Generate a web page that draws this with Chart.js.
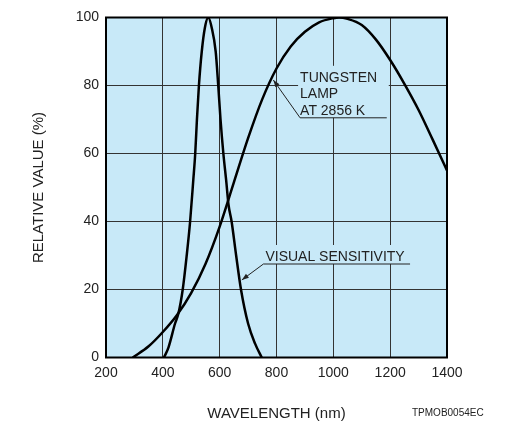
<!DOCTYPE html>
<html>
<head>
<meta charset="utf-8">
<script src="https://cdn.jsdelivr.net/npm/chart.js@4.4.0/dist/chart.umd.min.js"></script>
<style>
  html, body { margin: 0; padding: 0; background: #fff; }
  #wrap { width: 513px; height: 425px; }
</style>
</head>
<body>
<div id="wrap"><canvas id="chart" width="513" height="425"></canvas></div>
<script>
// tungsten lamp at 2856 K
const lampWavelengths = [294, 350, 400, 450, 500, 550, 600, 650, 700, 750, 800, 850, 900, 950, 1000, 1020, 1050, 1100, 1150, 1200, 1250, 1300, 1350, 1400];
const lampValues = [0, 3.3, 7.5, 12.5, 19, 27.5, 38.5, 51.5, 64.5, 76, 85, 91.5, 95.8, 98.6, 99.8, 100, 99.6, 97.8, 93.5, 87.5, 80.5, 72.8, 64, 55];

// visual sensitivity (eye)
const eyeWavelengths = [404, 420, 443, 455, 470, 484, 496, 507, 514, 520, 527, 537, 548, 560, 572, 586, 595, 603, 613, 623, 631, 642, 658, 675, 700, 725, 748];
const eyeValues = [0, 3, 10, 13, 20, 30, 40, 52, 60, 70, 80, 90, 97, 100, 97, 90, 80, 70, 60, 52, 45, 40, 30, 20, 10, 4, 0];

const xTicks = [200, 400, 600, 800, 1000, 1200, 1400];
const yTicks = [0, 20, 40, 60, 80, 100];

const plotBg = "rgb(200,233,248)";
const font = "Liberation Sans, Arial, Helvetica, sans-serif";

function toPoints(xs, ys) {
    return xs.map((x, i) => ({ x: x, y: ys[i] }));
}

function arrowHead(ctx, x1, y1, x2, y2) {
    const a = Math.atan2(y2 - y1, x2 - x1);
    const len = 7, w = 2.5;
    ctx.beginPath();
    ctx.moveTo(x2, y2);
    ctx.lineTo(x2 - len * Math.cos(a) + w * Math.sin(a), y2 - len * Math.sin(a) - w * Math.cos(a));
    ctx.lineTo(x2 - len * Math.cos(a) - w * Math.sin(a), y2 - len * Math.sin(a) + w * Math.cos(a));
    ctx.closePath();
    ctx.fill();
}

const decor = {
    id: "decor",
    beforeDraw(chart) {
        const a = chart.chartArea;
        const ctx = chart.ctx;
        ctx.save();
        ctx.fillStyle = plotBg;
        ctx.fillRect(a.left, a.top, a.right - a.left, a.bottom - a.top);
        ctx.restore();
    },
    afterDatasetsDraw(chart) {
        const ctx = chart.ctx;
        const xs = chart.scales.x, ys = chart.scales.y;
        const a = chart.chartArea;
        ctx.save();

        // frame
        ctx.strokeStyle = "#000";
        ctx.lineWidth = 2;
        ctx.strokeRect(a.left, a.top, a.right - a.left, a.bottom - a.top);

        ctx.font = "14px " + font;
        ctx.fillStyle = "#222";
        ctx.strokeStyle = "#222";
        ctx.lineWidth = 1;
        ctx.textBaseline = "alphabetic";

        // tungsten label
        let ux = xs.getPixelForValue(883), uy = ys.getPixelForValue(70.5);
        let ux2 = xs.getPixelForValue(1188);
        ctx.fillStyle = plotBg;
        ctx.fillRect(ux - 2, uy - 52, ux2 - ux + 4, 52);
        ctx.fillStyle = "#222";
        ctx.fillText("TUNGSTEN", ux, uy - 36);
        ctx.fillText("LAMP", ux, uy - 20);
        ctx.fillText("AT 2856 K", ux, uy - 3);
        ctx.beginPath();
        ctx.moveTo(ux2, uy);
        ctx.lineTo(ux, uy);
        let tx = xs.getPixelForValue(789), ty = ys.getPixelForValue(81.6);
        ctx.lineTo(tx, ty);
        ctx.stroke();
        arrowHead(ctx, ux, uy, tx, ty);

        // visual sensitivity label
        ux = xs.getPixelForValue(754); uy = ys.getPixelForValue(27.5);
        ux2 = xs.getPixelForValue(1270);
        ctx.fillStyle = plotBg;
        ctx.fillRect(ux, uy - 19, ux2 - ux, 19);
        ctx.fillStyle = "#222";
        ctx.fillText("VISUAL SENSITIVITY", ux + 2, uy - 3);
        ctx.beginPath();
        ctx.moveTo(ux2, uy);
        ctx.lineTo(ux, uy);
        tx = xs.getPixelForValue(678); ty = ys.getPixelForValue(22.8);
        ctx.lineTo(tx, ty);
        ctx.stroke();
        arrowHead(ctx, ux, uy, tx, ty);

        // figure code
        ctx.font = "10px " + font;
        ctx.fillStyle = "#222";
        ctx.textAlign = "left";
        ctx.textBaseline = "middle";
        ctx.fillText("TPMOB0054EC", 412, 413);
        ctx.restore();
    }
};

const ctx = document.getElementById("chart").getContext("2d");
new Chart(ctx, {
    type: "scatter",
    data: {
        datasets: [
            {
                label: "Tungsten lamp",
                data: toPoints(lampWavelengths, lampValues),
                showLine: true,
                borderColor: "#000",
                borderWidth: 2.5,
                pointRadius: 0,
                cubicInterpolationMode: "monotone"
            },
            {
                label: "Visual sensitivity",
                data: toPoints(eyeWavelengths, eyeValues),
                showLine: true,
                borderColor: "#000",
                borderWidth: 2.5,
                pointRadius: 0,
                cubicInterpolationMode: "monotone"
            }
        ]
    },
    options: {
        responsive: false,
        animation: false,
        layout: { padding: { top: 17.5, right: 66, bottom: 0, left: 0 } },
        plugins: { legend: { display: false }, tooltip: { enabled: false } },
        scales: {
            x: {
                type: "linear",
                min: 200,
                max: 1400,
                afterBuildTicks: (s) => { s.ticks = xTicks.map(v => ({ value: v })); },
                afterFit: (s) => { s.height = 67.5; },
                grid: { color: "#333", lineWidth: 1, drawTicks: false },
                border: { display: false },
                ticks: { color: "#222", font: { family: font, size: 14 }, padding: 7, maxRotation: 0, callback: (v) => String(v) },
                title: { display: true, text: "WAVELENGTH (nm)", color: "#222", font: { family: font, size: 15 }, padding: { top: 0, bottom: 2 } }
            },
            y: {
                min: 0,
                max: 100,
                afterBuildTicks: (s) => { s.ticks = yTicks.map(v => ({ value: v })); },
                afterFit: (s) => { s.width = 106; },
                grid: { color: "#333", lineWidth: 1, drawTicks: false },
                border: { display: false },
                ticks: { color: "#222", font: { family: font, size: 14 }, padding: 7, callback: (v) => String(v) },
                title: { display: true, text: "RELATIVE VALUE (%)", color: "#222", font: { family: font, size: 15 }, padding: { top: 29.5, bottom: 0 } }
            }
        }
    },
    plugins: [decor]
});
</script>
</body>
</html>
